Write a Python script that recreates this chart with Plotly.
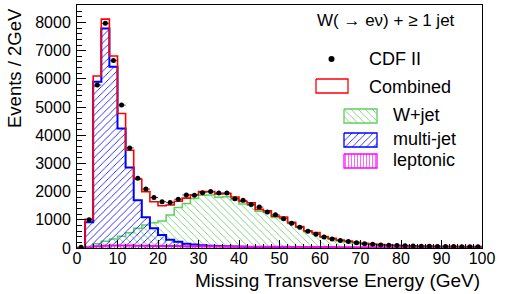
import plotly.graph_objects as go

# ---------------- data ----------------
bin_edges = list(range(0, 101, 2))          # 2 GeV bins, 0..100 GeV
bin_centers = [e + 1 for e in bin_edges[:-1]]

cdf_data = [30, 1000, 5780, 7970, 6650, 5070, 3550, 2470, 2090, 1790,
            1640, 1610, 1730, 1880, 1870, 1960, 2000, 1950, 1950, 1750,
            1690, 1540, 1450, 1280, 1180, 1040, 880, 740, 590, 490,
            390, 320, 265, 230, 190, 155, 130, 108, 95, 85,
            78, 70, 62, 58, 55, 52, 50, 48, 45, 42]

combined = [0, 1020, 6100, 8120, 6810, 4770, 3470, 2440, 2000, 1640,
            1500, 1525, 1660, 1770, 1890, 2000, 2000, 1920, 1930, 1810,
            1650, 1600, 1370, 1320, 1130, 1100, 910, 760, 610, 550,
            410, 345, 285, 245, 205, 165, 140, 120, 105, 95,
            85, 78, 72, 68, 64, 60, 57, 54, 52, 50]

w_jet = [0, 50, 150, 240, 320, 420, 540, 700, 820, 900,
         960, 1170, 1440, 1580, 1760, 1870, 1880, 1800, 1820, 1710,
         1560, 1520, 1300, 1260, 1080, 1050, 870, 730, 580, 510,
         375, 310, 250, 210, 170, 135, 110, 90, 75, 65,
         55, 48, 42, 38, 34, 31, 28, 25, 23, 21]

multi_jet = [0, 910, 5900, 7790, 6430, 4240, 2860, 1690, 1090, 700,
             460, 290, 220, 150, 120, 100, 80, 70, 60, 50,
             40, 35, 30, 25, 20, 18, 15, 12, 10, 8,
             7, 6, 5, 5, 4, 4, 3, 3, 3, 2,
             2, 2, 2, 2, 1, 1, 1, 1, 1, 1]

leptonic = [0, 20, 60, 80, 85, 85, 85, 80, 80, 75,
            75, 70, 70, 65, 65, 60, 60, 55, 55, 50,
            50, 48, 46, 44, 42, 40, 38, 36, 35, 34,
            33, 32, 31, 30, 30, 29, 29, 28, 28, 28,
            27, 27, 27, 26, 26, 26, 26, 25, 25, 25]

x_ticks = [0, 10, 20, 30, 40, 50, 60, 70, 80, 90, 100]
y_ticks = [0, 1000, 2000, 3000, 4000, 5000, 6000, 7000, 8000]

# ---------------- style ----------------
FONT = "Liberation Sans, Arial, sans-serif"
RED = "#ff0000"
GREEN = "#5fcf5f"
GREEN_H = "#4cc24c"
BLUE = "#0000ff"
MAG = "#ff00ff"
NONE = "rgba(0,0,0,0)"

W, H = 512, 294
L, R, T, B = 77, 30, 5, 46
PX0, PX1 = L, W - R
PY0, PY1 = H - B, T

GREEN_PAT = dict(shape="\\", fgcolor=GREEN_H, bgcolor=NONE, size=5, solidity=0.14, fgopacity=1)
BLUE_PAT = dict(shape="/", fgcolor=BLUE, bgcolor=NONE, size=5, solidity=0.16, fgopacity=1)
MAG_PAT = dict(shape="|", fgcolor=MAG, bgcolor=NONE, size=3, solidity=0.25, fgopacity=0.8)


def step(vals):
    return list(vals) + [vals[-1]]


fig = go.Figure()

# W+jet
fig.add_trace(go.Scatter(
    x=bin_edges, y=step(w_jet), mode="lines",
    line=dict(shape="hv", color=GREEN, width=1.5),
    fill="tozeroy", fillcolor=NONE, fillpattern=GREEN_PAT,
    showlegend=False, hoverinfo="skip"))

# multi-jet
fig.add_trace(go.Scatter(
    x=bin_edges, y=step(multi_jet), mode="lines",
    line=dict(shape="hv", color=BLUE, width=2),
    fill="tozeroy", fillcolor=NONE, fillpattern=BLUE_PAT,
    showlegend=False, hoverinfo="skip"))

# leptonic
fig.add_trace(go.Scatter(
    x=bin_edges, y=step(leptonic), mode="lines",
    line=dict(shape="hv", color=MAG, width=2),
    fill="tozeroy", fillcolor=NONE, fillpattern=MAG_PAT,
    showlegend=False, hoverinfo="skip"))

# combined
fig.add_trace(go.Scatter(
    x=bin_edges, y=step(combined), mode="lines",
    line=dict(shape="hv", color=RED, width=1.6),
    showlegend=False, hoverinfo="skip"))

# CDF II data
fig.add_trace(go.Scatter(
    x=bin_centers, y=cdf_data, mode="markers",
    marker=dict(color="black", size=5),
    error_x=dict(type="constant", value=1, thickness=1, width=0, color="#444"),
    showlegend=False, hoverinfo="skip"))

# ---------------- hand-drawn legend (pixel-space overlay axis) ----------------
def box(x0, y0, x1, y1):
    return [x0, x1, x1, x0, x0], [y0, y0, y1, y1, y0]

bx, by = box(316, 79, 348, 93)
fig.add_trace(go.Scatter(x=bx, y=by, mode="lines", line=dict(color=RED, width=1.3),
                         xaxis="x2", yaxis="y2", showlegend=False, hoverinfo="skip"))
bx, by = box(344, 109, 377, 123)
fig.add_trace(go.Scatter(x=bx, y=by, mode="lines", line=dict(color=GREEN, width=1.3),
                         fill="toself", fillcolor=NONE, fillpattern=GREEN_PAT,
                         xaxis="x2", yaxis="y2", showlegend=False, hoverinfo="skip"))
bx, by = box(344, 133, 377, 147)
fig.add_trace(go.Scatter(x=bx, y=by, mode="lines", line=dict(color=BLUE, width=1.3),
                         fill="toself", fillcolor=NONE, fillpattern=BLUE_PAT,
                         xaxis="x2", yaxis="y2", showlegend=False, hoverinfo="skip"))
bx, by = box(344, 154, 377, 168)
fig.add_trace(go.Scatter(x=bx, y=by, mode="lines", line=dict(color=MAG, width=1.3),
                         fill="toself", fillcolor=NONE, fillpattern=MAG_PAT,
                         xaxis="x2", yaxis="y2", showlegend=False, hoverinfo="skip"))
fig.add_trace(go.Scatter(x=[331.5], y=[59], mode="markers",
                         marker=dict(color="black", size=6),
                         xaxis="x2", yaxis="y2", showlegend=False, hoverinfo="skip"))

annots = []
def label(text, x, y, size=18):
    annots.append(dict(text=text, x=x, y=y, xref="x2", yref="y2",
                       xanchor="left", yanchor="middle", showarrow=False,
                       font=dict(family=FONT, size=size, color="black")))

label("W( \u2192 e\u03bd) + \u2265 1 jet", 315, 20, 17)
label("CDF II", 367, 59)
label("Combined", 367, 87)
label("W+jet", 391, 115)
label("multi-jet", 391, 139)
label("leptonic", 391, 160)

# axis titles
annots.append(dict(text="Events / 2GeV", textangle=-90,
                   x=(14 - PX0) / (PX1 - PX0), y=(PY0 - 6) / (PY0 - PY1),
                   xref="paper", yref="paper", xanchor="center", yanchor="top",
                   showarrow=False, font=dict(family=FONT, size=18.5, color="black")))
annots.append(dict(text="Missing Transverse Energy (GeV)",
                   x=1.0, y=(PY0 - 268) / (PY0 - PY1),
                   xref="paper", yref="paper", xanchor="right", yanchor="top",
                   showarrow=False, font=dict(family=FONT, size=19, color="black")))

fig.update_layout(
    width=W, height=H,
    margin=dict(l=L, r=R, t=T, b=B, pad=0),
    paper_bgcolor="white", plot_bgcolor="white",
    font=dict(family=FONT, size=16, color="black"),
    annotations=annots,
    xaxis=dict(range=[0, 100], tickvals=x_ticks, ticks="inside", ticklen=8,
               tickwidth=1, tickcolor="black", showline=True, linecolor="black",
               linewidth=1, mirror=True, showgrid=False, zeroline=False,
               ticklabelstandoff=-4,
               tickfont=dict(family=FONT, size=16),
               minor=dict(dtick=2, ticks="inside", ticklen=4, tickcolor="black",
                          showgrid=False)),
    yaxis=dict(range=[0, 8620], tickvals=y_ticks, ticks="inside", ticklen=9,
               tickwidth=1, tickcolor="black", showline=True, linecolor="black",
               linewidth=1, mirror=True, showgrid=False, zeroline=False,
               ticklabelstandoff=2,
               tickfont=dict(family=FONT, size=16),
               minor=dict(dtick=200, ticks="inside", ticklen=5, tickcolor="black",
                          showgrid=False)),
    xaxis2=dict(range=[PX0, PX1], overlaying="x", anchor="y2", visible=False,
                fixedrange=True),
    yaxis2=dict(range=[PY0, PY1], overlaying="y", anchor="x2", visible=False,
                fixedrange=True),
)

fig.write_html("out.html", config={"displayModeBar": False, "staticPlot": True},
               post_script="document.body.style.margin='0';document.body.style.overflow='hidden';")
